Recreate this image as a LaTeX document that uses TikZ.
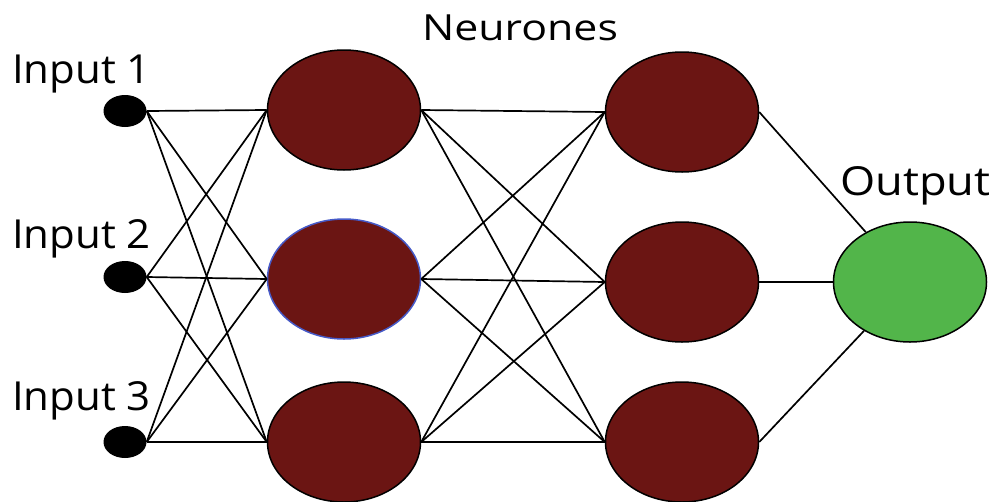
\documentclass[tikz,border=0pt]{standalone}
\usepackage{fontspec}
\setmainfont{Open Sans}
\usetikzlibrary{shapes.geometric}

\definecolor{neuronred}{RGB}{107,21,19}
\definecolor{outgreen}{RGB}{82,181,74}
\definecolor{selblue}{RGB}{70,90,200}

\begin{document}
\begin{tikzpicture}[
  x=1pt, y=-1pt,
  input/.style={ellipse, fill=black, inner sep=0pt, minimum width=43pt, minimum height=32pt},
  neuron/.style={ellipse, draw=black, line width=1.5pt, fill=neuronred, inner sep=0pt, minimum width=153pt, minimum height=120pt},
  outnode/.style={neuron, fill=outgreen},
  label/.style={anchor=base west, inner sep=0pt, font=\fontsize{40}{40}\selectfont},
  link/.style={line width=1.7pt},
]
  \useasboundingbox (0,0) rectangle (995,501);

  \node[input] (in1) at (125,111) {};
  \node[input] (in2) at (125,277) {};
  \node[input] (in3) at (125,442) {};

  \node[neuron] (h1) at (344,110) {};
  \node[neuron, draw=selblue] (h2) at (344,279) {};
  \node[neuron] (h3) at (344,442) {};

  \node[neuron] (k1) at (682,112) {};
  \node[neuron] (k2) at (682,282) {};
  \node[neuron] (k3) at (682,442) {};

  \node[outnode] (out) at (910,282) {};

  \node[label, xscale=1.05] (lin1) at (12,83) {Input 1};
  \node[label, xscale=1.05] (lin2) at (12,248) {Input 2};
  \node[label, xscale=1.05] (lin3) at (12,410) {Input 3};
  \node[label, anchor=base, font=\fontsize{36}{36}\selectfont, xscale=1.19] (lneu) at (520,40) {Neurones};
  \node[label, xscale=1.13] (lout) at (840,195) {Output};

  % inputs to first layer
  \draw[link] (in1.east) -- (h1.west);
  \draw[link] (in1.east) -- (h2.west);
  \draw[link] (in1.east) -- (h3.west);
  \draw[link] (in2.east) -- (h1.west);
  \draw[link] (in2.east) -- (h2.west);
  \draw[link] (in2.east) -- (h3.west);
  \draw[link] (in3.east) -- (h1.west);
  \draw[link] (in3.east) -- (h2.west);
  \draw[link] (in3.east) -- (h3.west);

  % first layer to second layer
  \draw[link] (h1.east) -- (k1.west);
  \draw[link] (h1.east) -- (k2.west);
  \draw[link] (h1.east) -- (k3.west);
  \draw[link] (h2.east) -- (k1.west);
  \draw[link] (h2.east) -- (k2.west);
  \draw[link] (h2.east) -- (k3.west);
  \draw[link] (h3.east) -- (k1.west);
  \draw[link] (h3.east) -- (k2.west);
  \draw[link] (h3.east) -- (k3.west);

  % second layer to output
  \draw[link] (k1.east) -- (out);
  \draw[link] (k2.east) -- (out.west);
  \draw[link] (k3.east) -- (out);
\end{tikzpicture}
\end{document}
